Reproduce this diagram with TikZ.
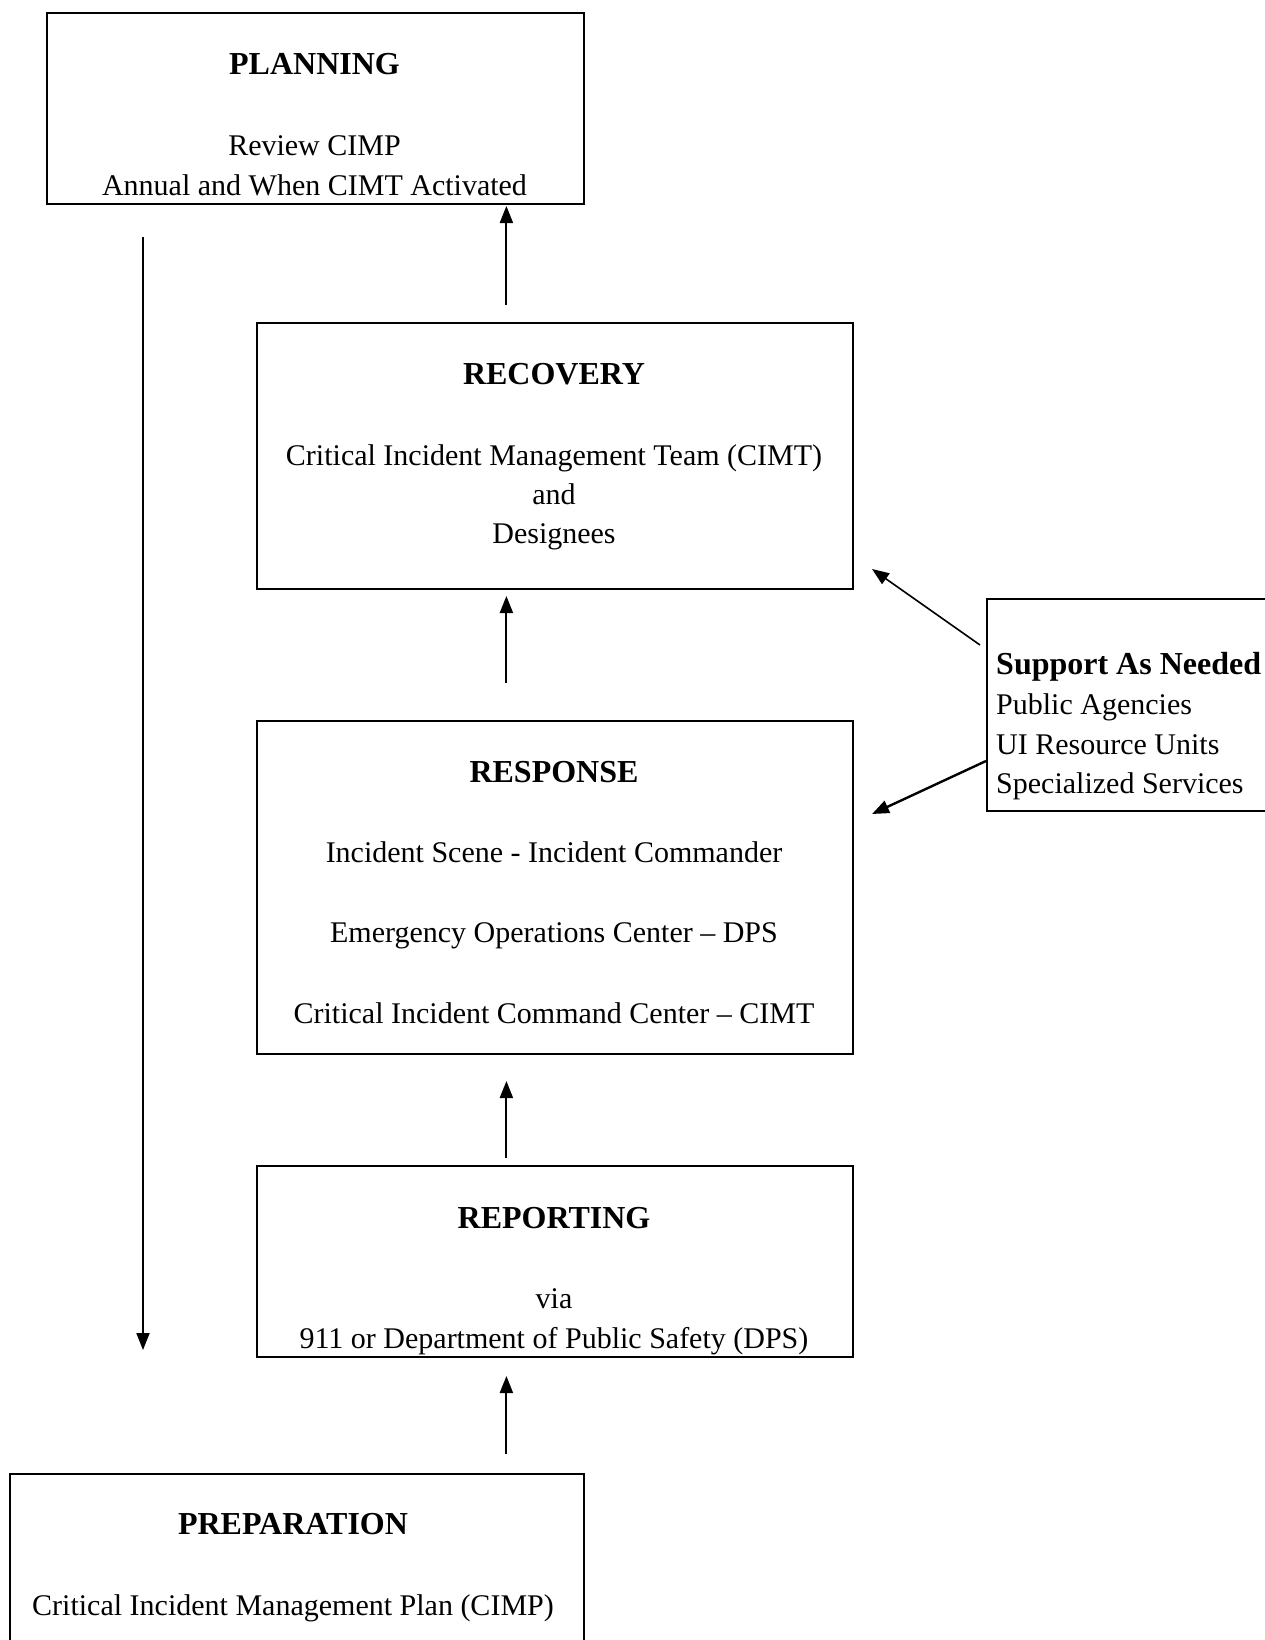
\documentclass[tikz,border=0pt]{standalone}
\usepackage{fontspec}
\setmainfont{Liberation Serif}
\usetikzlibrary{arrows.meta}
\tikzset{
  box/.style={draw, line width=2pt, inner sep=0pt, anchor=north west},
  txt/.style={anchor=base, inner sep=0pt, font=\fontsize{30}{36}\selectfont},
  ttl/.style={anchor=base, inner sep=0pt, font=\fontsize{32}{38}\selectfont\bfseries},
  lft/.style={anchor=base west, inner sep=0pt, font=\fontsize{30}{36}\selectfont},
  arr/.style={line width=2pt, -{Triangle[length=17pt,width=13pt]}}
}
\begin{document}
\begin{tikzpicture}[x=1pt,y=-1pt]
\clip (0,0) rectangle (1265,1640);
\fill[white] (0,0) rectangle (1265,1640);
% boxes
\node[box, minimum width=537pt, minimum height=190.5pt] (plan) at (46,12.5) {};
\node[box, minimum width=596pt, minimum height=266pt] (rec) at (256,322) {};
\node[box, minimum width=596pt, minimum height=333pt] (resp) at (256,720) {};
\node[box, minimum width=596pt, minimum height=191pt] (rep) at (256,1165) {};
\node[box, minimum width=574pt, minimum height=200pt] (prep) at (9,1473) {};
\node[box, minimum width=300pt, minimum height=212pt] (sup) at (986,598) {};
% texts
\node[ttl] (t1) at (314.5,75) {PLANNING};
\node[txt] (t2) at (314.5,156) {Review CIMP};
\node[txt] (t3) at (314.5,196) {Annual and When CIMT Activated};
\node[ttl] (t4) at (554,384) {RECOVERY};
\node[txt] (t5) at (554,465) {Critical Incident Management Team (CIMT)};
\node[txt] (t6) at (554,504) {and};
\node[txt] (t7) at (554,543) {Designees};
\node[ttl] (t8) at (554,782) {RESPONSE};
\node[txt] (t9) at (554,862) {Incident Scene - Incident Commander};
\node[txt] (t10) at (554,942) {Emergency Operations Center -- DPS};
\node[txt] (t11) at (554,1023) {Critical Incident Command Center -- CIMT};
\node[ttl] (t12) at (554,1228) {REPORTING};
\node[txt] (t13) at (554,1308) {via};
\node[txt] (t14) at (554,1348) {911 or Department of Public Safety (DPS)};
\node[ttl] (t15) at (293,1534) {PREPARATION};
\node[txt] (t16) at (293,1615) {Critical Incident Management Plan (CIMP)};
\node[lft, font=\fontsize{32}{38}\selectfont\bfseries] (s1) at (996,674) {Support As Needed};
\node[lft] (s2) at (996,714) {Public Agencies};
\node[lft] (s3) at (996,754) {UI Resource Units};
\node[lft] (s4) at (996,793) {Specialized Services};
% connector end points
\coordinate (a1s) at (506.4,305);
\coordinate (a1e) at (506.4,206);
\coordinate (a2s) at (506.4,683);
\coordinate (a2e) at (506.4,596);
\coordinate (a3s) at (506.4,1158);
\coordinate (a3e) at (506.4,1081);
\coordinate (a4s) at (506.4,1454);
\coordinate (a4e) at (506.4,1376);
\coordinate (ls) at (143,237);
\coordinate (le) at (143,1350);
\coordinate (b1s) at (980,645);
\coordinate (b1e) at (872,569);
\coordinate (b2s) at (986,761);
\coordinate (b2e) at (872,814);
% connectors
\draw[arr] (a1s) -- (a1e);
\draw[arr] (a2s) -- (a2e);
\draw[arr] (a3s) -- (a3e);
\draw[arr] (a4s) -- (a4e);
\draw[arr] (ls) -- (le);
\draw[arr, line width=1.6pt] (b1s) -- (b1e);
\draw[arr, line width=2.4pt] (b2s) -- (b2e);
\end{tikzpicture}
\end{document}
